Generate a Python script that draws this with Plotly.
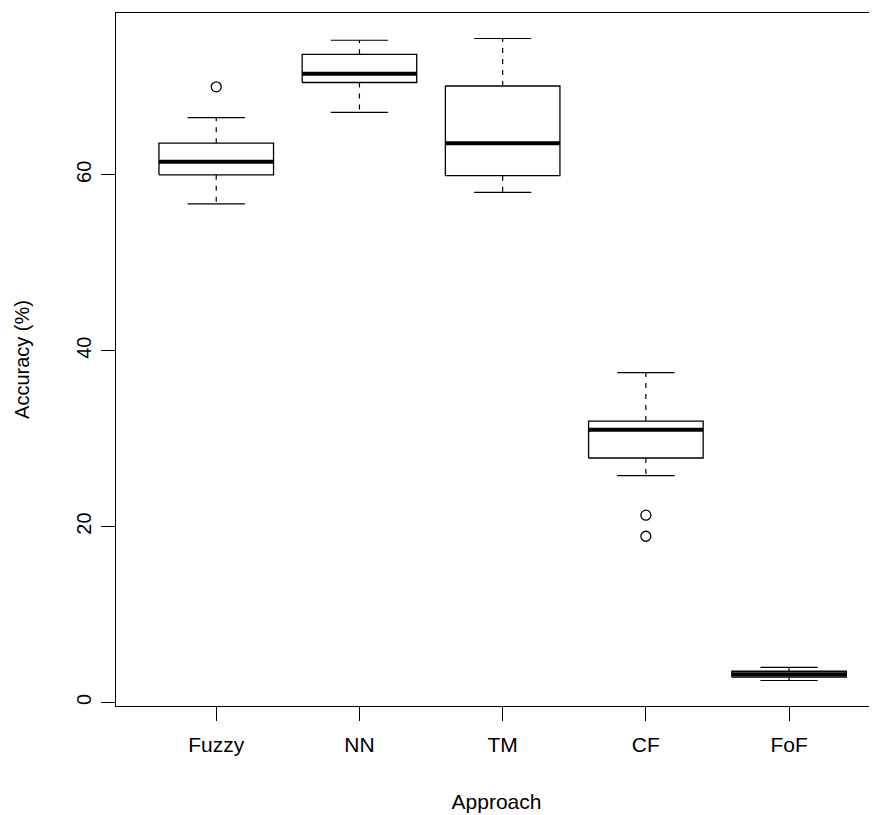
import plotly.graph_objects as go

categories = ["Fuzzy", "NN", "TM", "CF", "FoF"]
lower_whisker = [56.7, 67.1, 58.0, 25.8, 2.5]
q1 = [60.0, 70.5, 59.9, 27.8, 2.9]
median = [61.5, 71.5, 63.6, 31.0, 3.2]
q3 = [63.6, 73.7, 70.1, 32.0, 3.55]
upper_whisker = [66.5, 75.3, 75.5, 37.5, 4.0]
outliers = {"Fuzzy": [70.0], "CF": [21.3, 18.9]}
y_ticks = [0, 20, 40, 60]

FONT = "Liberation Sans, Arial, Helvetica, sans-serif"
BOXW = 0.4   # half box width (boxwex 0.8)
CAPW = 0.2   # half staple width

fig = go.Figure()
pos = list(range(1, len(categories) + 1))

for i, p in enumerate(pos):
    # dashed whiskers
    fig.add_trace(go.Scatter(
        x=[p, p, None, p, p],
        y=[q3[i], upper_whisker[i], None, q1[i], lower_whisker[i]],
        mode="lines", line=dict(color="black", width=1.2, dash="5px,6px"),
        hoverinfo="skip", showlegend=False))
    # staples
    fig.add_trace(go.Scatter(
        x=[p - CAPW, p + CAPW, None, p - CAPW, p + CAPW],
        y=[upper_whisker[i], upper_whisker[i], None, lower_whisker[i], lower_whisker[i]],
        mode="lines", line=dict(color="black", width=1.2),
        hoverinfo="skip", showlegend=False))
    # box
    fig.add_trace(go.Scatter(
        x=[p - BOXW, p + BOXW, p + BOXW, p - BOXW, p - BOXW],
        y=[q1[i], q1[i], q3[i], q3[i], q1[i]],
        mode="lines", fill="toself", fillcolor="white",
        line=dict(color="black", width=1.3),
        hoverinfo="skip", showlegend=False))
    # median
    fig.add_trace(go.Scatter(
        x=[p - BOXW, p + BOXW], y=[median[i], median[i]],
        mode="lines", line=dict(color="black", width=4),
        hoverinfo="skip", showlegend=False))
    # outliers
    if categories[i] in outliers:
        vals = outliers[categories[i]]
        fig.add_trace(go.Scatter(
            x=[p] * len(vals), y=vals, mode="markers",
            marker=dict(symbol="circle-open", size=10, color="black",
                        line=dict(width=1.3, color="black")),
            hoverinfo="skip", showlegend=False))

# page body has an 8px default margin, so margins are offset to compensate
fig.update_layout(
    width=877, height=815,
    margin=dict(l=108, r=8, t=5, b=117, autoexpand=False),
    paper_bgcolor="white", plot_bgcolor="white",
    font=dict(family=FONT, size=20, color="black"),
    showlegend=False,
)
fig.update_xaxes(
    range=[0.3, 5.614], tickvals=pos, ticktext=categories,
    ticks="outside", ticklen=14, tickwidth=1.2, tickcolor="black",
    showline=True, linecolor="black", linewidth=1.3, mirror=True,
    showgrid=False, zeroline=False, automargin=False,
    tickfont=dict(family=FONT, size=21, color="black"),
    ticklabelstandoff=6,
    title=dict(text="Approach", font=dict(family=FONT, size=21, color="black"), standoff=38),
)
fig.update_yaxes(
    range=[-0.4, 78.4], tickvals=y_ticks, ticktext=[str(v) for v in y_ticks],
    ticks="outside", ticklen=14, tickwidth=1.2, tickcolor="black",
    showline=True, linecolor="black", linewidth=1.3, mirror=False,
    showgrid=False, zeroline=False, automargin=False, tickangle=-90,
    tickfont=dict(family=FONT, size=20, color="black"),
    ticklabelstandoff=2,
    title=dict(text="Accuracy (%)", font=dict(family=FONT, size=20, color="black"), standoff=37),
)

fig.write_html("out.html")
